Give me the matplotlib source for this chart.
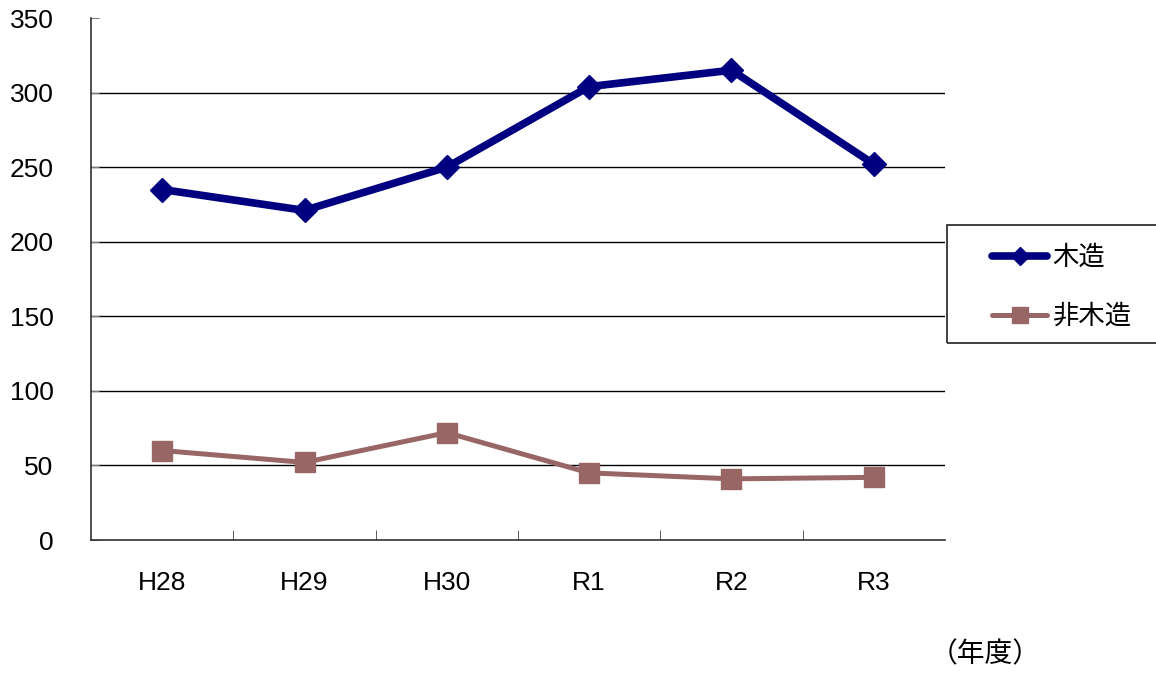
import matplotlib.pyplot as plt
from matplotlib.patches import Rectangle
from matplotlib.ticker import FixedLocator

plt.rcParams['font.family'] = ['Liberation Sans', 'Noto Sans CJK JP']

# Data
years = ['H28', 'H29', 'H30', 'R1', 'R2', 'R3']
wooden = [235, 221, 250, 304, 315, 252]
non_wooden = [60, 52, 72, 45, 41, 42]

fig = plt.figure(figsize=(11.56, 6.73), dpi=100)
ax = fig.add_axes([91 / 1156, 133 / 673, 854 / 1156, 522 / 673])

x = list(range(len(years)))
ax.plot(x, wooden, color='#000080', lw=5.5, marker='D', ms=12,
        label='木造', solid_capstyle='round', zorder=3)
ax.plot(x, non_wooden, color='#996666', lw=3.6, marker='s', ms=14,
        label='非木造', solid_capstyle='round', zorder=3)

ax.set_xlim(-0.5, len(years) - 0.5)
ax.set_ylim(0, 350)
ax.set_yticks(range(0, 351, 50))
for v in range(50, 301, 50):
    ax.axhline(v, color='black', lw=1, zorder=1)

ax.set_xticks(x)
ax.set_xticklabels(years, fontsize=19)
ax.tick_params(axis='x', length=0, pad=22)
ax.xaxis.set_minor_locator(FixedLocator([i + 0.5 for i in x[:-1]]))
ax.tick_params(axis='x', which='minor', direction='in', length=7, color='#404040')
ax.tick_params(axis='y', direction='in', length=6, color='#808080', labelsize=19, pad=27)

for s in ['top', 'right']:
    ax.spines[s].set_visible(False)
for s in ['left', 'bottom']:
    ax.spines[s].set_color('#303030')
    ax.spines[s].set_linewidth(1.2)

# Legend box
fig.patches.append(Rectangle((947 / 1156, 1 - 343 / 673), 0.3, 118 / 673,
                             transform=fig.transFigure, fill=False,
                             edgecolor='#202020', lw=1.2))
fig.legend(loc='center left', bbox_to_anchor=(992 / 1156, 1 - 287 / 673),
           frameon=False, fontsize=19, handlelength=2.1, handletextpad=0.2,
           labelspacing=1.3, borderpad=0, borderaxespad=0, markerscale=0.8)

fig.text(985 / 1156, 1 - 655 / 673, '（年度）', fontsize=20, ha='center', va='center')

fig.savefig('out.png', dpi=100)
